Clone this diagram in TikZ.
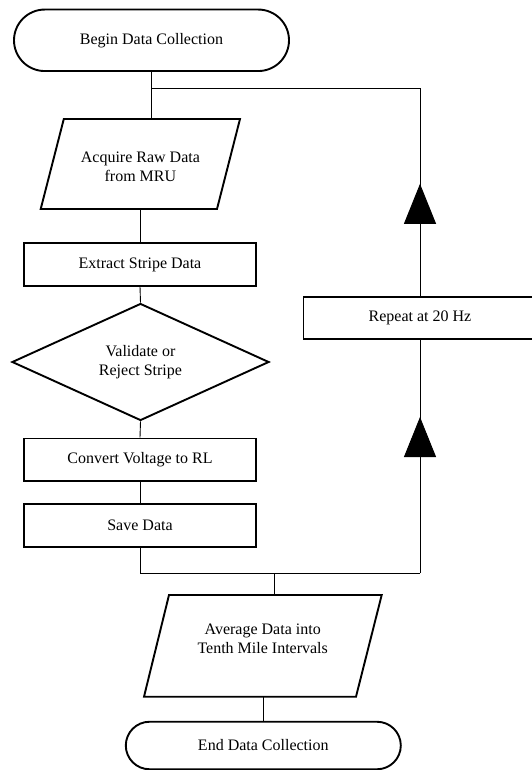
\documentclass[tikz,border=0pt]{standalone}
\usepackage{fontspec}
\setmainfont{Liberation Serif}
\usetikzlibrary{shapes.geometric,shapes.misc,arrows.meta,decorations.markings}
\begin{document}
\begin{tikzpicture}[x=1pt,y=-1pt,
  txt/.style={font=\fontsize{16}{19.3}\selectfont, align=center, inner sep=0pt},
  shp/.style={draw, line width=1.9pt},
  term/.style={txt, shp, rounded rectangle, minimum width=275pt},
  box/.style={txt, shp, rectangle, minimum width=232pt, minimum height=42.5pt},
  dec/.style={txt, shp, diamond, minimum width=257pt, minimum height=117pt},
  conn/.style={line width=0.9pt},
  midarrow/.style={postaction={decorate}, decoration={markings,
     mark=at position #1 with {\arrow{Triangle[length=40pt,width=32pt]}}}}
]
\useasboundingbox (0,0) rectangle (532,770);

% nodes
\node[term, minimum height=61.5pt] (begin) at (151.5,40.3) {Begin Data Collection};
\node[txt] (acq) at (140.4,166.5) {Acquire Raw Data\\from MRU};
\node[box] (extract) at (140,264.5) {Extract Stripe Data};
\node[dec] (valid) at (140.5,362) {Validate or\\Reject Stripe};
\node[box] (convert) at (140,459.7) {Convert Voltage to RL};
\node[box] (save) at (140,525.5) {Save Data};
\node[box, minimum width=233pt] (rep) at (420,318) {Repeat at 20 Hz};
\node[txt] (avg) at (262.7,638.5) {Average Data into\\Tenth Mile Intervals};
\node[term, minimum height=47.5pt] (end) at (263.3,745.5) {End Data Collection};

% parallelogram outlines
\draw[shp] (40.7,209) -- (217,209) -- (240,119) -- (63.8,119) -- cycle;
\draw[shp] (144,696.7) -- (356,696.7) -- (381.7,595) -- (169,595) -- cycle;

% connector points
\coordinate (acqtop) at (151.5,119);
\coordinate (acqbot) at (140,209);
\coordinate (avgtop) at (274.9,595);
\coordinate (avgbot) at (263.3,696.7);
\coordinate (jtop) at (151.5,88);
\coordinate (jtopr) at (420,88);
\coordinate (jbotr) at (420,573);
\coordinate (jmid) at (274.9,573);

% connectors
\draw[conn] (begin.south) -- (acqtop);
\draw[conn] (jtopr) -- (jtop);
\draw[conn, midarrow=112pt] (rep.north) -- (jtopr);
\draw[conn] (acqbot) -- (extract.north);
\draw[conn] (extract.south) -- (valid.north);
\draw[conn] (valid.south) -- (convert.north);
\draw[conn] (convert.south) -- (save.north);
\draw[conn] (save.south) |- (jbotr);
\draw[conn, midarrow=156pt] (jbotr) -- (rep.south);
\draw[conn] (jmid) -- (avgtop);
\draw[conn] (avgbot) -- (end.north);
\end{tikzpicture}
\end{document}
